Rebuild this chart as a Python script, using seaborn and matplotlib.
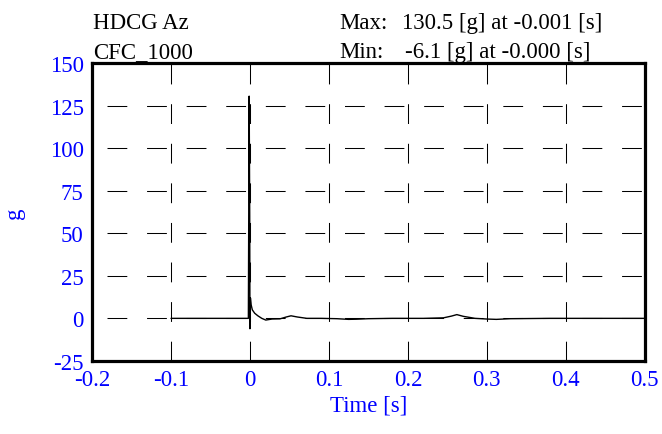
import matplotlib
matplotlib.use("Agg")
import matplotlib.pyplot as plt
import seaborn as sns
import pandas as pd
from matplotlib.ticker import MultipleLocator

# Sensor trace
time_s = [-0.1, -0.05, -0.002, -0.001, -0.0003, 0.0, 0.0006, 0.0015, 0.003, 0.006, 0.010,
          0.015, 0.020, 0.028, 0.038, 0.046, 0.052, 0.060, 0.072, 0.090, 0.110, 0.125,
          0.135, 0.150, 0.180, 0.220, 0.245, 0.255, 0.262, 0.270, 0.285, 0.300, 0.312,
          0.330, 0.380, 0.450, 0.500]
accel_g = [0.0, 0.0, 0.0, 130.5, 60.0, -6.1, 12.0, 8.0, 5.0, 3.0, 1.5,
           0.0, -1.0, -0.4, -0.3, 0.8, 1.5, 0.8, 0.0, 0.0, -0.2, -0.6,
           -0.5, -0.2, 0.0, 0.0, 0.3, 1.3, 2.2, 1.2, 0.0, -0.4, -0.6,
           -0.2, 0.0, 0.0, 0.0]

x_ticks = [-0.2, -0.1, 0, 0.1, 0.2, 0.3, 0.4, 0.5]
x_labels = ['-0.2', '-0.1', '0', '0.1', '0.2', '0.3', '0.4', '0.5']
y_ticks = [-25, 0, 25, 50, 75, 100, 125, 150]
y_labels = ['-25', '0', '25', '50', '75', '100', '125', '150']

df = pd.DataFrame({'t': time_s, 'a': accel_g})

sns.set_style('white')
plt.rcParams['font.family'] = ['Liberation Serif', 'DejaVu Serif']
plt.rcParams['font.size'] = 16.5
plt.rcParams['axes.unicode_minus'] = False

fig, ax = plt.subplots(figsize=(6.62, 4.35), dpi=100)
fig.subplots_adjust(left=0.139, right=0.974, top=0.853, bottom=0.168)

sns.lineplot(data=df, x='t', y='a', color='black', linewidth=1.0, ax=ax, sort=False)

ax.set_xlim(-0.2, 0.5)
ax.set_ylim(-25, 150)
ax.set_xticks(x_ticks)
ax.set_xticklabels(x_labels)
ax.set_yticks(y_ticks)
ax.set_yticklabels(y_labels)
ax.xaxis.set_minor_locator(MultipleLocator(0.05))
ax.yaxis.set_minor_locator(MultipleLocator(12.5))

ax.tick_params(which='major', direction='inout', length=10, width=2.2,
               colors='black', labelcolor='blue', labelsize=16.5, pad=1)
ax.tick_params(which='minor', direction='inout', length=5, width=2.2, colors='black')
ax.tick_params(top=False, right=False, which='both')

for s in ax.spines.values():
    s.set_linewidth(2.3)
    s.set_color('black')
    s.set_visible(True)

# dashed grid, horizontal lines start with a gap, vertical ones with a dash
ax.yaxis.grid(True, which='major', color='black', linewidth=0.75, linestyle=(23.6, (19, 19)))
ax.xaxis.grid(True, which='major', color='black', linewidth=0.75, linestyle=(0, (19, 19)))

ax.set_xlabel('Time [s]', color='blue', fontsize=16.5, labelpad=3)
ax.set_ylabel('g', color='blue', fontsize=16.5, labelpad=18)

fig.text(0.140, 0.945, 'HDCG Az', fontsize=16.5, color='black', va='center')
fig.text(0.140, 0.880, 'CFC_1000', fontsize=16.5, color='black', va='center')
fig.text(0.513, 0.945, 'Max:', fontsize=16.5, color='black', va='center')
fig.text(0.607, 0.945, '130.5 [g] at -0.001 [s]', fontsize=16.5, color='black', va='center')
fig.text(0.513, 0.880, 'Min:', fontsize=16.5, color='black', va='center')
fig.text(0.612, 0.880, '-6.1 [g] at -0.000 [s]', fontsize=16.5, color='black', va='center')

fig.savefig('out.png', dpi=100)
